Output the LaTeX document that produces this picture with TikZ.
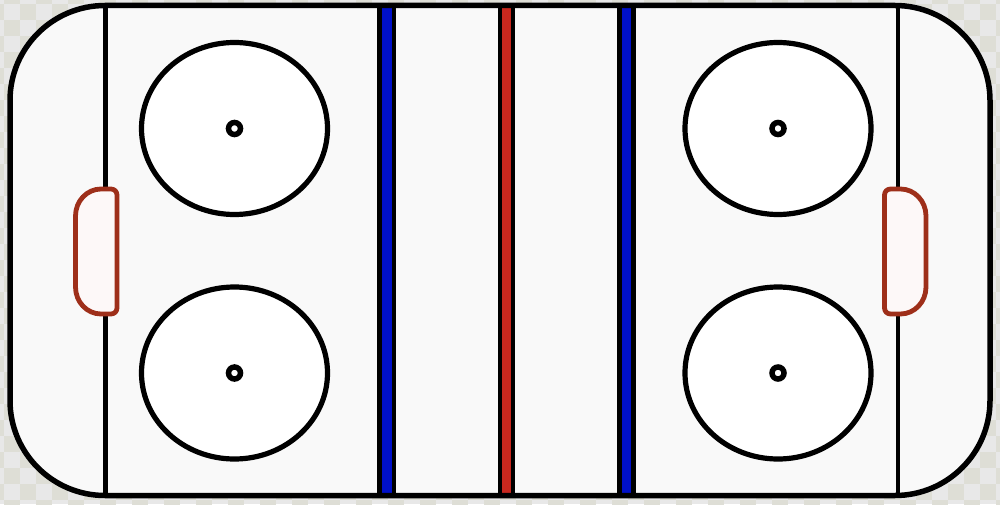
\documentclass[tikz,border=0pt]{standalone}
\usetikzlibrary{calc}
\definecolor{chkA}{HTML}{E8E8E8}
\definecolor{chkB}{HTML}{DEDED6}
\definecolor{ice}{HTML}{F9F9F9}
\definecolor{bluel}{HTML}{0010C8}
\definecolor{redl}{HTML}{C8281E}
\definecolor{creaseline}{HTML}{9E2F1A}
\definecolor{creasefill}{HTML}{FDF8F8}
\tikzset{
  board/.style={draw=black, line width=5.5pt},
  goalline/.style={draw=black, line width=4.8pt},
  bandline/.style={draw=black, line width=4.6pt},
  faceoff/.style={draw=black, fill=white, line width=5.2pt},
  spot/.style={draw=black, fill=white, line width=5.5pt},
  crease/.style={draw=creaseline, fill=creasefill, line width=4.8pt, line join=round},
}
\begin{document}
\begin{tikzpicture}[x=1pt,y=1pt]
\useasboundingbox (0,0) rectangle (1000,504);
% checkered background
\begin{scope}
\clip (0,0) rectangle (1000,504);
\fill[chkA] (0,0) rectangle (1000,504);
\foreach \i in {0,...,63}{\foreach \j in {0,...,32}{
  \pgfmathtruncatemacro\k{mod(\i+\j,2)}
  \ifnum\k=1 \fill[chkB] ({-12+16*\i},{516-16*\j}) rectangle ++(16,-16); \fi
}}
\end{scope}
% ice
\fill[ice, rounded corners=95pt] (10,8.5) rectangle (990,498.5);
% goal lines
\coordinate (gl1t) at (105.5,498.5); \coordinate (gl1b) at (105.5,8.5);
\coordinate (gl2t) at (898,498.5); \coordinate (gl2b) at (898,8.5);
\draw[goalline] (gl1t) -- (gl1b);
\draw[goalline] (gl2t) -- (gl2b);
% blue and red lines
\filldraw[bandline, fill=bluel] (379.5,8.5) rectangle (394,498.5);
\filldraw[bandline, fill=redl] (500,8.5) rectangle (513,498.5);
\filldraw[bandline, fill=bluel] (619.5,8.5) rectangle (633.5,498.5);
% faceoff circles
\foreach \cx/\cy/\n in {234.5/375.5/a, 234.5/131/b, 778/375.5/c, 778/131/d}{
  \draw[faceoff] (\cx,\cy) ellipse [x radius=93, y radius=86];
  \node[spot, circle, inner sep=0pt, minimum size=12pt] (spot\n) at (\cx,\cy) {};
}
% creases
\draw[crease] (101,315) -- (111,315) arc[start angle=90,end angle=0,radius=6]
  -- (117,196) arc[start angle=0,end angle=-90,radius=6]
  -- (101,190) arc[start angle=270,end angle=180,x radius=25.5,y radius=27]
  -- (75.5,288) arc[start angle=180,end angle=90,x radius=25.5,y radius=27] -- cycle;
\draw[crease] (900.5,315) -- (890.5,315) arc[start angle=90,end angle=180,radius=6]
  -- (884.5,196) arc[start angle=180,end angle=270,radius=6]
  -- (900.5,190) arc[start angle=-90,end angle=0,x radius=25.5,y radius=27]
  -- (926,288) arc[start angle=0,end angle=90,x radius=25.5,y radius=27] -- cycle;
% boards
\draw[board, rounded corners=95pt] (10,8.5) rectangle (990,498.5);
\end{tikzpicture}
\end{document}
